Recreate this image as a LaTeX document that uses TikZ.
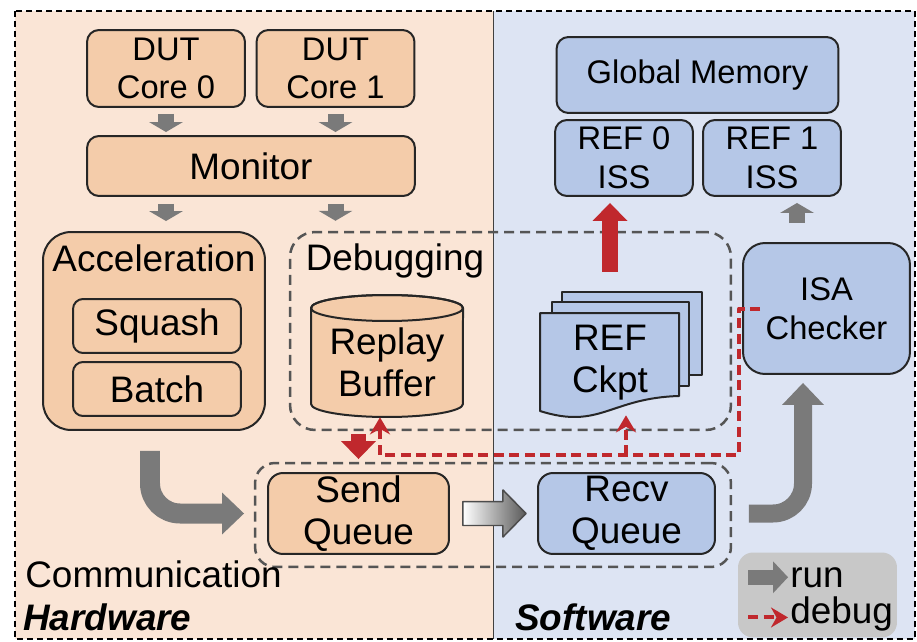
\documentclass[tikz,border=0pt]{standalone}
\usepackage{fontspec}
\setmainfont{Liberation Sans}
\usetikzlibrary{arrows.meta,calc}

\definecolor{hwbg}{RGB}{250,229,214}
\definecolor{hwbox}{RGB}{244,204,170}
\definecolor{swbg}{RGB}{221,228,243}
\definecolor{swbox}{RGB}{181,199,231}
\definecolor{rungray}{RGB}{122,122,122}
\definecolor{dbgred}{RGB}{192,40,45}
\definecolor{dashgray}{RGB}{85,85,85}
\definecolor{legendbg}{RGB}{200,200,200}

\tikzset{
	txt/.style={font=\fontsize{21}{24}\selectfont},
	txs/.style={font=\fontsize{18.6}{22}\selectfont},
	hwblk/.style={draw=black!85, line width=0.04cm, fill=hwbox, rounded corners=0.24cm, align=center, inner sep=0pt},
	swblk/.style={hwblk, fill=swbox},
	grp/.style={draw=dashgray, line width=0.05cm, dash pattern=on 0.2cm off 0.12cm, rounded corners=0.5cm, inner sep=0pt},
	runarr/.style={draw=rungray, line width=0.32cm, -{Triangle[width=0.68cm, length=0.2cm, line width=0pt]}},
	bigrun/.style={draw=rungray, line width=0.4cm, rounded corners=0.6cm, -{Triangle[width=0.84cm, length=0.44cm, line width=0pt]}},
	bigdbg/.style={draw=dbgred, line width=0.32cm, -{Triangle[width=0.7cm, length=0.36cm, line width=0pt]}},
	dbgline/.style={draw=dbgred, line width=0.08cm, dash pattern=on 0.2cm off 0.11cm, -{Stealth[length=0.34cm, width=0.4cm]}},
}

\begin{document}
\begin{tikzpicture}[x=0.02cm, y=-0.02cm, line join=round]
	\useasboundingbox (0,0) rectangle (917,642);

	% 背景：硬件 / 软件两半
	\fill[hwbg] (15,11) rectangle (493,639);
	\fill[swbg] (493,11) rectangle (915,639);
	\draw[black!75, line width=0.02cm] (493,11) -- (493,639);
	\draw[black, line width=0.03cm, dash pattern=on 0.12cm off 0.08cm] (15,11) rectangle (915,639);

	% 虚线分组：调试、通信
	\node[grp, minimum width=8.82cm, minimum height=3.96cm] (dbggrp) at (510.5,331) {};
	\node[txt, anchor=base, inner sep=0pt] (dbglbl) at (395,271) {Debugging};
	\node[grp, rounded corners=0.4cm, minimum width=9.52cm, minimum height=2.08cm] (commgrp) at (493,515) {};
	\node[txt, anchor=base west, inner sep=0pt] (commlbl) at (25,587) {Communication};

	% 硬件侧模块
	\node[hwblk, txs, minimum width=3.16cm, minimum height=1.54cm] (dut0) at (166,68.5) {DUT\\Core 0};
	\node[hwblk, txs, minimum width=3.16cm, minimum height=1.54cm] (dut1) at (335.5,68.5) {DUT\\Core 1};
	\node[hwblk, txt, minimum width=6.56cm, minimum height=1.2cm] (monitor) at (251,166) {Monitor};
	\node[hwblk, rounded corners=0.56cm, minimum width=4.44cm, minimum height=3.96cm] (accel) at (154,331) {};
	\node[txt, anchor=base, inner sep=0pt] (accellbl) at (154,272) {Acceleration};
	\node[hwblk, txt, rounded corners=0.2cm, minimum width=3.36cm, minimum height=1.08cm] (squash) at (157,326) {Squash};
	\node[hwblk, txt, rounded corners=0.2cm, minimum width=3.36cm, minimum height=1.08cm] (batch) at (157,389) {Batch};

	% 回放缓冲：圆柱
	\draw[black!85, line width=0.04cm, fill=hwbox] (311,308) -- (311,404)
		arc[start angle=180, end angle=360, x radius=1.52cm, y radius=0.26cm] -- (463,308)
		arc[start angle=0, end angle=180, x radius=1.52cm, y radius=0.26cm] -- cycle;
	\draw[black!85, line width=0.04cm] (387,308) ellipse[x radius=1.52cm, y radius=0.26cm];
	\node[txt, align=center, inner sep=0pt, minimum width=3.04cm, minimum height=2.2cm] (replay) at (387,362) {Replay\\Buffer};

	% REF 检查点：叠放文档
	\draw[black!85, line width=0.04cm, fill=swbox] (562,292) rectangle (702,375);
	\draw[black!85, line width=0.04cm, fill=swbox] (552,302) rectangle (689,386);
	\draw[black!85, line width=0.04cm, fill=swbox] (540,313) -- (679,313) -- (679,396)
		.. controls (610,398) and (600,430) .. (540,411) -- cycle;
	\node[txt, align=center, inner sep=0pt, minimum height=2.08cm] (refckpt) at (610,363) {REF\\Ckpt};

	% 软件侧模块
	\node[swblk, txs, minimum width=5.64cm, minimum height=1.52cm] (gmem) at (697.5,75) {Global Memory};
	\node[swblk, txs, minimum width=2.76cm, minimum height=1.52cm] (ref0) at (624,158) {REF 0\\ISS};
	\node[swblk, txs, minimum width=2.76cm, minimum height=1.52cm] (ref1) at (772,158) {REF 1\\ISS};
	\node[swblk, txs, rounded corners=0.44cm, minimum width=3.34cm, minimum height=2.62cm] (isa) at (826.5,308.5) {ISA\\Checker};

	% 发送 / 接收队列
	\node[hwblk, txt, rounded corners=0.3cm, minimum width=3.62cm, minimum height=1.62cm] (sendq) at (358.5,513.5) {Send\\Queue};
	\node[swblk, txt, rounded corners=0.3cm, minimum width=3.54cm, minimum height=1.62cm] (recvq) at (626.5,513.5) {Recv\\Queue};

	% 运行通路
	\draw[runarr, shorten <=0.12cm, shorten >=0.06cm] (dut0.south) -- (dut0.south |- monitor.north);
	\draw[runarr, shorten <=0.12cm, shorten >=0.06cm] (dut1.south) -- (dut1.south |- monitor.north);
	\draw[runarr, shorten <=0.14cm, shorten >=0.2cm] (monitor.south -| dut0) -- (accel.north -| dut0);
	\draw[runarr, shorten <=0.14cm, shorten >=0.2cm] (monitor.south -| dut1) -- (dbggrp.north -| dut1);
	\draw[bigrun, shorten <=0.4cm, shorten >=0.46cm] ([xshift=-0.08cm]accel.south) |- (sendq.west);
	\draw[bigrun, line width=0.36cm, shorten <=0.66cm, shorten >=0.16cm] (recvq.east) -| ([xshift=-0.47cm]isa.south);
	\draw[runarr, shorten <=0.38cm, shorten >=0.12cm] ($(isa.north)+(-0.59cm,0)$) -- ($(isa.north |- ref1.south)+(-0.59cm,0)$);
	\shade[left color=white, right color=black!65, draw=black!70, line width=0.03cm]
		($(sendq.east)+(0.26cm,0.24cm)$) -- ++(0.8cm,0) -- ++(0,0.23cm) -- ++(0.46cm,-0.47cm)
		-- ++(-0.46cm,-0.47cm) -- ++(0,0.23cm) -- ++(-0.8cm,0) -- cycle;

	% 调试通路
	\draw[bigdbg, shorten <=0.78cm, shorten >=0.12cm] (refckpt.north) -- (refckpt.north |- ref0.south);
	\draw[bigdbg, line width=0.3cm, shorten <=0.06cm, shorten >=0.26cm] (sendq.north |- dbggrp.south) -- (sendq.north);
	\coordinate (bus) at (739,455);
	\draw[dbgline] ([xshift=0.36cm]isa.west) -| (bus) -| ([xshift=-0.14cm]replay.south);
	\draw[dbgline] ($(refckpt.south |- bus)+(0.32cm,0)$) -- ([xshift=0.32cm]refckpt.south);

	% 图例与侧别标注
	\node[fill=legendbg, rounded corners=0.3cm, minimum width=3.18cm, minimum height=1.7cm] (legend) at (817.5,595) {};
	\node[txt, anchor=base west, inner sep=0pt] (runlbl) at (790,587) {run};
	\node[txt, anchor=base west, inner sep=0pt] (debuglbl) at (790,623) {debug};
	\draw[draw=rungray, line width=0.3cm, -{Triangle[width=0.64cm, length=0.3cm, line width=0pt]}] ($(runlbl.west)+(-0.84cm,0)$) -- ($(runlbl.west)+(-0.04cm,0)$);
	\draw[dbgline] ($(debuglbl.west)+(-0.84cm,-0.08cm)$) -- ($(debuglbl.west)+(-0.04cm,-0.08cm)$);
	\node[anchor=base west, inner sep=0pt, font=\fontsize{21}{24}\selectfont\bfseries\itshape] (hwlbl) at (23,630) {Hardware};
	\node[anchor=base west, inner sep=0pt, font=\fontsize{21}{24}\selectfont\bfseries\itshape] (swlbl) at (515,630) {Software};
\end{tikzpicture}
\end{document}
